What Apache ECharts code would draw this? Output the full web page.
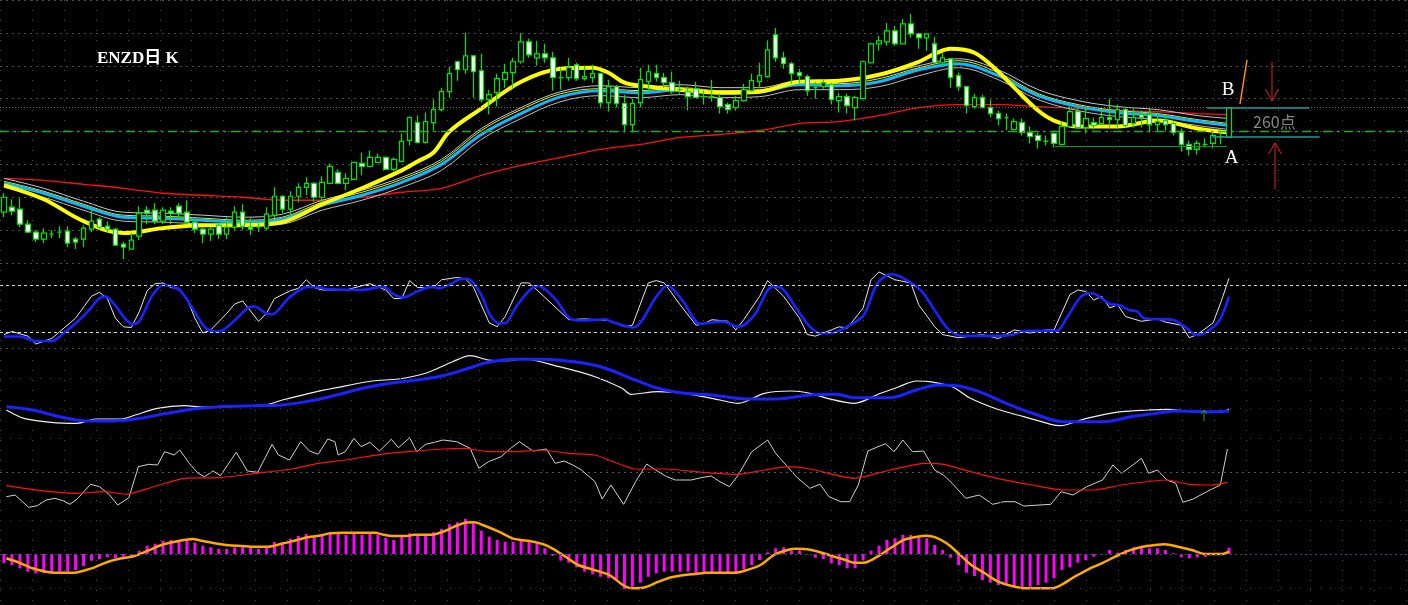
<!DOCTYPE html>
<html><head><meta charset="utf-8">
<script src="https://cdn.jsdelivr.net/npm/echarts/dist/echarts.min.js"></script>
<style>html,body{margin:0;padding:0;background:#000;}#c{width:1408px;height:605px;}</style>
</head><body><div id="c"></div>
<script>
// ---- DATA (price panel values in chart units; last candle spans 260 points) ----
const opens = [51,56,54,39,31,24,29,31,32,24, 24,34,44,37,34,19,14,27,53,53, 42,52,57,51,41,34,29,38,29,36, 51,36,36,35,48,67,54,67,76,80, 66,80,91,80,84,100,97,101,106,94, 102,123,141,121,141,154,172,202,194,208, 193,164,171,184,191,202,222,206,210,206, 186,186,199,185,186,190,161,177,160,139, 161,182,190,186,181,174,172,175,167,167, 166,159,156,163,173,182,187,229,206,200, 191,187,176,177,179,163,167,156,165,201, 220,222,233,220,240,230,226,220,201,205, 188,177,157,166,156,150,146,134,141,131, 128,122,130,119,137,152,136,141,140,146, 144,154,140,149,149,139,143,140,131,119, 114,119,120,127,126];
const closes = [66,52,39,31,24,30,29,31,20,21, 35,42,36,34,18,16,23,50,50,42, 53,50,50,41,34,29,34,29,36,51, 37,34,36,49,67,54,67,76,80,66, 81,97,80,85,101,97,106,106,94,104, 122,146,121,142,154,172,190,194,208,192, 164,169,185,191,202,222,209,210,206,186, 186,196,185,187,190,161,177,160,139,160, 184,192,186,181,172,174,167,166,167,167, 157,154,163,174,183,188,214,206,200,190, 188,173,176,181,164,167,158,166,202,220, 223,233,220,240,230,226,230,201,206,186, 177,158,166,156,150,145,146,142,131,127, 123,122,120,137,152,136,145,138,146,144, 154,138,146,146,139,142,139,131,119,114, 120,119,128,127,156];
const lows = [46,48,36,30,21,20,25,25,16,14, 16,31,34,31,17,4,14,23,39,39, 39,39,44,39,30,20,22,24,24,33, 33,28,31,33,45,50,48,61,68,61, 61,79,79,73,83,88,96,101,93,92, 101,118,120,120,133,152,166,183,190,166, 161,149,157,176,176,200,206,198,201,173, 174,183,183,183,181,155,152,156,131,131, 156,172,182,176,170,170,153,166,159,162, 150,150,153,162,172,176,186,202,195,180, 180,168,165,175,159,151,150,143,164,200, 213,218,218,220,226,215,213,199,198,176, 173,150,155,155,146,138,133,133,128,120, 115,118,116,118,136,135,130,134,138,136, 136,136,136,136,131,132,133,128,112,108, 109,116,115,119,126];
const highs = [70,64,65,43,33,35,33,37,37,26, 38,53,46,42,35,21,30,57,57,60, 56,56,60,63,44,36,36,40,46,57, 59,45,40,56,76,68,72,80,86,81, 87,100,94,90,101,111,113,110,107,106, 130,147,148,151,164,176,197,203,231,208, 210,174,190,200,206,231,225,223,220,212, 196,206,201,198,199,191,184,179,169,165, 196,199,199,191,192,183,177,182,174,184, 170,161,168,180,190,201,223,236,212,202, 195,189,182,184,181,171,170,168,203,221, 228,241,238,245,250,230,230,227,211,206, 191,178,170,169,164,153,150,145,145,137, 131,128,131,142,157,156,156,146,153,165, 159,156,155,153,155,151,148,142,135,123, 123,125,131,131,156];

// moving averages: [day index, value]
const maYellow = [[0,78],[5,64],[10,42],[15,30],[20,35],[25,38],[30,38],[35,41],[40,59],[45,75],[50,93],[52,102],[54,111],[56,132],[60,155],[65,182],[70,195],[74,196],[76,191],[78,181],[80,178],[85,174],[90,171],[95,172],[100,182],[105,183],[110,189],[115,202],[117,210],[119,215],[122,211],[125,192],[127,176],[130,153],[132,143],[135,137],[140,137],[145,143],[150,135],[154,131]];
const maCyan = [[0,80],[5,70],[10,57],[15,46],[20,45],[25,43],[30,41],[35,44],[40,58],[45,68],[50,81],[55,99],[60,129],[65,150],[70,167],[75,173],[80,171],[85,174],[90,171],[95,172],[100,179],[105,178],[110,182],[115,194],[120,200],[125,188],[130,168],[135,157],[140,151],[145,148],[150,142],[154,138]];
const maThinYellow = [[0,82],[5,72],[10,59],[15,48],[20,47],[25,45],[30,43],[35,46],[40,61],[45,71],[50,84],[55,102],[60,133],[65,154],[70,170],[75,175],[80,173],[85,176],[90,173],[95,174],[100,181],[105,180],[110,185],[115,196],[120,203],[125,191],[130,170],[135,159],[140,153],[145,150],[150,144],[154,140]];
const maWhiteUp = [[0,85],[5,75],[10,62],[15,51],[20,50],[25,48],[30,46],[35,49],[40,63],[45,73],[50,86],[55,104],[60,135],[65,156],[70,172],[75,178],[80,176],[85,179],[90,176],[95,176],[100,183],[105,183],[110,188],[115,198],[120,205],[125,194],[130,174],[135,163],[140,157],[145,154],[150,148],[154,145]];
const maWhiteDn = [[0,76],[5,66],[10,53],[15,42],[20,41],[25,39],[30,37],[35,39],[40,53],[45,63],[50,76],[55,93],[60,124],[65,145],[70,162],[75,168],[80,166],[85,169],[90,166],[95,167],[100,174],[105,174],[110,177],[115,188],[120,196],[125,184],[130,164],[135,153],[140,147],[145,144],[150,138],[154,134]];
const maRed = [[0,85],[5,83],[10,79],[15,75],[20,70],[25,68],[30,66],[35,63],[40,63],[45,66],[50,71],[55,75],[60,88],[65,98],[70,106],[75,114],[80,119],[85,126],[90,129],[95,133],[100,140],[105,142],[110,148],[115,156],[120,159],[125,159],[130,157],[135,155],[140,153],[145,152],[150,150],[154,149]];

// levels
const levelA = 127, levelB = 156, supportLevel = 117, lastLevel = 132;

// stochastic K (white) / D (blue), 0-100
const stochK = [[0,17],[1,21],[3,15],[4,5],[6,12],[9,38],[11,66],[12,71],[13,63],[14,38],[15,27],[16,26],[17,46],[18,73],[19,82],[20,83],[21,77],[22,76],[23,63],[24,38],[25,19],[26,23],[28,44],[29,56],[30,60],[32,34],[33,44],[34,63],[36,73],[37,76],[38,87],[39,77],[40,74],[43,74],[46,82],[48,74],[49,63],[50,63],[51,86],[52,77],[54,77],[55,87],[57,90],[58,88],[59,78],[61,32],[62,27],[63,40],[65,83],[66,83],[67,74],[69,55],[71,36],[73,37],[76,35],[78,27],[79,29],[81,83],[82,86],[83,83],[85,55],[87,29],[88,31],[89,36],[91,34],[92,23],[93,36],[95,66],[96,86],[98,66],[100,38],[101,17],[102,15],[104,23],[105,27],[106,25],[108,51],[109,87],[110,97],[112,87],[114,83],[115,55],[117,27],[118,17],[120,13],[123,17],[125,12],[127,23],[129,19],[131,23],[132,23],[134,68],[135,74],[136,72],[137,61],[138,66],[139,51],[140,55],[141,40],[143,34],[145,37],[146,33],[148,29],[149,13],[150,17],[152,32],[153,59],[154,89]];
const stochD = [[0,14.5],[2,14.5],[4,8.9],[6,8.9],[7.5,18.7],[9.7,37.9],[10.9,50.6],[12,63.4],[12.8,65.5],[13.6,59.1],[16.2,30.2],[17,33.6],[18.7,67.7],[20.1,80.4],[21.7,76.2],[22.6,67.7],[23.7,50.6],[25.4,25.1],[26.8,20.9],[27.6,23],[29.3,37.9],[30.7,51.5],[31.5,52.8],[32.9,44.3],[33.7,43],[34.3,46.4],[36,65.5],[38.2,77.9],[39.9,77],[40.4,75.3],[44.9,74],[47.7,77.9],[48.8,69.8],[50.2,64.3],[52.1,72.8],[53.8,78.3],[54.7,76.2],[56.1,81.3],[57.5,88.1],[58.6,86.8],[60,67.7],[61.1,42.1],[62.2,31.5],[63,31.5],[64.4,52.8],[66.1,74],[67.2,79.1],[69.4,61.3],[71.1,37.9],[72.8,34.9],[75.6,36.6],[76.1,34.5],[78.4,27.2],[79.2,26],[80.1,33.6],[82,65.5],[83.4,79.6],[85.4,59.1],[87.5,31],[90.3,33.6],[92.3,27.2],[93.1,29.4],[94.5,44.3],[96.2,76.2],[97.3,78.3],[98.2,71.9],[99.6,50.6],[101.3,27.2],[102.7,18.7],[103.8,18.7],[106.4,29.4],[108.1,42.1],[109.8,82.5],[111.5,94],[113.1,88.9],[115.4,71.9],[117.1,46.4],[118.8,23],[120.5,15.3],[123.9,15.3],[126.7,16.6],[128.4,21.7],[132.3,21.7],[133.7,40],[135.4,65.5],[136.8,69.8],[138,63.4],[139.1,55.7],[140.2,54.9],[141.4,48.5],[142.5,46.4],[143.3,37.9],[147,35.7],[148.7,25.1],[149.8,16.6],[150.9,18.7],[152.7,33.6],[154,65.5]];

// slow oscillator: blue / white
const slowBlue = [[0.3,23.3],[3.6,20],[7,13.3],[10.4,9],[13.7,9],[17.1,11.7],[20.5,16.7],[23.8,21],[27.2,23.3],[31.7,24.3],[35,25],[38.4,29],[41.8,35],[45.1,41.7],[48.5,46.7],[51.9,50],[55.2,54.3],[58.6,62.3],[60.9,67.7],[64.2,70.7],[67.6,70.7],[72.1,67.7],[75.4,62.3],[78.8,51.7],[82.2,41.7],[85.5,36.7],[88.9,35],[93.4,31],[96.8,31],[101.3,35],[104.6,35.7],[106.9,32.3],[111.4,32.3],[114.7,40],[117.5,45],[119.8,44.3],[122.6,38.3],[126,26.7],[129.3,16.7],[133.2,8.3],[138.3,8.3],[141.7,13.3],[145,16.7],[147.3,19],[151.8,18.3],[154,19]];
const slowWhite = [[0.3,20],[2.5,11.7],[5.9,7.7],[9.2,6.7],[11.5,11],[14.8,11],[16.5,15],[19.3,21.7],[22.7,24.3],[24.9,23],[29.4,24.3],[32.8,25],[35,30],[38.4,36.7],[41.8,42.3],[46.3,49],[49.6,51],[53,56.7],[56.4,68.3],[58.6,74.3],[60.9,70],[63.1,69.3],[65.3,71],[69.8,63.3],[74.3,53.3],[77.7,41.7],[78.8,35.7],[82.2,38.3],[85.5,36.7],[90,30],[92.3,26.7],[95.6,36.7],[99,39],[101.3,36.7],[103.5,31.7],[106.9,26.7],[110.2,36.7],[112.5,43.3],[114.7,49],[116.4,48.3],[119.2,43.3],[121.5,31.7],[124.8,21],[128.2,13.3],[131.6,5.7],[132.7,4.3],[136.1,11.7],[140.5,18.3],[143.9,20],[146.2,20.7],[149.5,18.3],[152.9,17.7],[154,21]];

// RSI (white) and its average (red)
const rsiWhite = [[0.3,25.3],[1.4,27],[3.1,14.7],[4.2,16.3],[5.3,22],[6.4,23.7],[7.5,21],[8.3,17.7],[9.2,23],[10.9,37.7],[12,35.3],[13.2,27.7],[14.3,17],[15.7,24.3],[16.9,55.3],[18.2,57.7],[19.3,57],[20.2,70.3],[21.4,67],[22.1,72],[23.3,58.7],[24.4,48.7],[25.2,45.3],[26.3,51],[27.2,46.3],[29.2,69.7],[30.6,51],[31.9,49.7],[33.7,77.7],[34.5,67],[35.9,62],[37.3,80.3],[38.4,71],[39.5,67.7],[40.7,83],[41.6,80.3],[42,67],[42.9,70.3],[44,83.7],[44.9,75.3],[46,79.7],[47.2,71],[48.7,82.7],[49.6,74.3],[51,84.3],[51.9,70.3],[53,77.7],[54.1,79.7],[55.2,82],[56.9,80.3],[58.6,73.7],[59.7,53.7],[60.9,60.3],[62.5,65.3],[63.7,73.7],[64.8,80.3],[66.5,71],[68.2,73],[69.3,58.7],[70.4,61],[71.5,57],[72.6,52],[74.3,40.3],[75.2,23],[76.3,37],[77.9,17.7],[79.4,40.3],[80.8,58],[81.9,52],[83.3,45.3],[84.4,42],[86.4,42],[87.6,44.3],[88.9,46],[90,40.3],[91.2,35.3],[92.3,47],[94,70.3],[96,82],[97,68.7],[98.5,55.3],[99.6,45.3],[101.3,33.7],[102.6,37.7],[103.7,25.3],[105.2,20.3],[106.3,20.3],[107.4,37],[108.6,71],[110.8,78.3],[111.9,70.3],[113,82],[114.2,70.3],[115.6,71],[117,52],[118.1,47],[119.2,38.7],[120.9,23.7],[122.6,27],[124.3,17.7],[125.7,20.3],[127.1,20.3],[128.2,16],[131.6,17.7],[132.9,30.3],[134.4,27],[136.1,35.3],[138.1,42],[139.4,57],[140.5,48.7],[141.9,57],[143,63.7],[143.9,48.7],[145,52],[146.2,42],[147.3,38.7],[148.2,19.7],[149.5,23],[151.2,30.3],[152.9,37],[153.8,73]];
const rsiRed = [[0.3,36.3],[4.7,31.3],[9.2,28.7],[12.6,30.3],[15.4,27.7],[18.2,33.7],[22.7,43.7],[27.2,44.3],[31.7,48.7],[36.2,53],[39.5,58.7],[42.9,62],[47.4,67.7],[50.8,70.3],[55.2,73],[58,73.7],[60.9,70.3],[64.2,70.3],[67.6,72],[70.9,68.7],[74.3,67],[76.6,60.3],[79.4,53],[83.3,53],[87.8,49.7],[92.3,47.7],[95.6,52],[98.5,55.3],[101.3,53],[106.9,43.7],[111.4,52],[115.8,58.7],[118.1,57.7],[121.5,50.3],[124.8,43.7],[129.3,37],[133.2,32],[137.2,32],[140.5,37],[146.2,42],[149,37.7],[151.8,37],[153.8,39.7]];

// MACD histogram (per day) and signal line
const macdBars = [-9,-11,-14.3,-17.7,-19.3,-19.3,-19.3,-17.7,-17.7,-16, -12,-6.7,-5.3,-3.3,-4.3,-2.7,-2.7,3.3,8.3,10.3, 13.3,14,14,14,11.3,8.3,6.7,5,5,6.7, 6.7,6.7,5,7.3,12,12,15,18,20,17.3, 18.3,20.7,20.7,19,20.7,19,20.7,19,16.3,14, 17.3,20.7,19,18,21.7,25,29.7,31.7,35,30.7, 23.3,17.3,14,12.3,12.3,13.3,12.3,10.7,5.7,-1.7, -6.7,-8.7,-13.3,-17.7,-20.3,-22.7,-24.3,-26,-35,-32.7, -28.7,-22.7,-19.3,-17.7,-17.7,-17.7,-17.7,-19.3,-19.3,-18.7, -18.7,-18.7,-18.7,-15.3,-11,-6,1.7,5.7,6.7,3.3, 3.3,-0.5,-3.7,-5,-9.3,-11,-14.3,-14.3,-6,3.3, 8.3,14,15.7,19,19,16.7,15.7,9,4,-3.7, -11,-18.7,-22,-26,-28.7,-31,-31,-32,-32.7,-32.7, -31,-28.7,-24.3,-16,-13.3,-8.7,-6,-2.7,-0.5,4, 1.3,4,6.7,6.7,5.7,5.7,4,0.7,-3.3,-4.3, -3.3,-2.7,-1,-0.3,6.3];
const macdSignal = [[0.3,-4.3],[1.9,-8.7],[3.6,-14.3],[5.3,-17.7],[6.4,-18.7],[8.9,-18.7],[10,-16.7],[11.4,-13.3],[13.1,-7.7],[14.8,-4.3],[16.4,-2],[18.1,3.3],[19.8,9],[21.5,12.3],[22.6,14],[23.7,15],[24.8,13.3],[26.5,10.7],[28.2,8.7],[29.8,8],[31.5,7.3],[33.2,7.3],[34.8,10],[36.5,13.3],[38.2,16.7],[39.9,18.7],[41,20.7],[42.7,21.3],[46.6,21.3],[47.7,19.3],[48.8,18],[50.5,18],[51.6,19.3],[53.8,19.3],[55.5,23.3],[56.6,27.3],[58,31.3],[59.1,31.7],[60.2,29],[62.2,22.3],[63.9,15.7],[65,14],[66.1,13],[67.8,9.7],[68.9,5.7],[70.6,-2.7],[72.2,-11],[73.9,-15.3],[76.1,-21],[77.8,-31],[78.9,-34.3],[80.6,-33.3],[82.3,-27.7],[83.9,-23.3],[85.6,-21],[87.75,-19.3],[88.3,-18.7],[92,-18.7],[93.4,-16],[95.1,-11],[96.8,-1],[98.5,4],[99.6,5.3],[101,4.7],[102.4,2.3],[104.1,-2],[105.8,-6],[106.9,-8.7],[108.1,-8.7],[109.8,-2.7],[111.4,5.7],[113.1,14],[114.8,17.3],[116,18.3],[117.1,16.7],[118.5,10.7],[119.9,1.3],[121.6,-11],[123.3,-19.3],[125,-27.7],[126.7,-32],[128.4,-34.3],[131.8,-34.3],[132.9,-31],[134.6,-22.7],[136.3,-15.3],[138,-9.3],[139.7,-2.7],[141.4,3.3],[143.1,7.3],[144.7,9],[145.9,9.7],[147.6,7.3],[149.3,4],[151,0],[153.2,0],[154,2.3]];

const title = 'ENZD日 K';
const rangeLabel = '260点';

// ---- CHART ----
const slots = 177; // 155 trading days + empty right margin
const days = Array.from({length: slots}, (_, i) => String(i + 1));
const candleData = opens.map((o, i) => [o, closes[i], lows[i], highs[i]]);

const hidden = {axisLine:{show:false}, axisTick:{show:false}, axisLabel:{show:false}, splitLine:{show:false}};
const valX = (g) => Object.assign({type:'value', gridIndex:g, min:-0.5, max:slots - 0.5}, hidden);
const ml = (data, color, type, width) => ({symbol:'none', silent:true, label:{show:false}, animation:false,
  lineStyle:{color:color, type:type, width:width || 1}, emphasis:{disabled:true}, data:data});
const line = (name, xi, yi, data, color, width, smooth, extra) => Object.assign({
  type:'line', name:name, xAxisIndex:xi, yAxisIndex:yi, data:data, showSymbol:false, symbol:'none',
  smooth:smooth, lineStyle:{color:color, width:width}, emphasis:{disabled:true}, z:3
}, extra || {});

const option = {
  backgroundColor:'#000',
  animation:false,
  grid:[
    {left:-6, top:-1, width:1416, height:264},
    {left:-6, top:269.6, width:1416, height:78.3},
    {left:-6, top:350, width:1416, height:80},
    {left:-6, top:422, width:1416, height:100},
    {left:-6, top:514, width:1416, height:80},
    {left:-2, top:0, width:1410, height:605}
  ],
  xAxis:[
    Object.assign({type:'category', gridIndex:0, data:days, boundaryGap:true}, hidden),
    valX(0), valX(1), valX(2), valX(3),
    Object.assign({type:'category', gridIndex:4, data:days, boundaryGap:true}, hidden),
    valX(4),
    {type:'value', gridIndex:5, min:0, max:1410, interval:32, axisLine:{show:false}, axisTick:{show:false}, axisLabel:{show:false},
     splitLine:{show:true, lineStyle:{color:'#4a4a4a', type:[1,9], width:1}}}
  ],
  yAxis:[
    {type:'value', gridIndex:0, min:0, max:264, interval:33, axisLine:{show:false}, axisTick:{show:false}, axisLabel:{show:false},
     splitLine:{show:true, lineStyle:{color:'#4c4c58', type:[2,4], width:1}}},
    Object.assign({type:'value', gridIndex:1, min:0, max:100}, hidden),
    Object.assign({type:'value', gridIndex:2, min:0, max:80}, hidden),
    Object.assign({type:'value', gridIndex:3, min:0, max:100}, hidden),
    Object.assign({type:'value', gridIndex:4, min:-40, max:40}, hidden),
    Object.assign({type:'value', gridIndex:5, min:0, max:605, inverse:true}, hidden)
  ],
  series:[
    line('MA red', 1, 0, maRed, '#ff1010', 1.3, 0.3, {
      markLine: ml([{yAxis:lastLevel}], '#1fae1f', [9,5,2,5], 1.3)
    }),
    line('MA white dn', 1, 0, maWhiteDn, '#bdbdbd', 1, 0.35),
    line('MA white up', 1, 0, maWhiteUp, '#c8c8c8', 1, 0.35, {
      markLine: ml([{yAxis:levelB}], '#6a6a6a', [1,2], 1)
    }),
    line('MA thin yellow', 1, 0, maThinYellow, '#f0f000', 1, 0.35),
    line('MA cyan', 1, 0, maCyan, '#12b6ff', 3, 0.35),
    line('MA yellow', 1, 0, maYellow, '#ffff00', 4, 0.35, {
      markLine: ml([
        [{coord:[132.1, supportLevel]}, {coord:[153.75, supportLevel]}]
      ], '#0a9a0a', 'solid', 1)
    }),
    line('levels', 1, 0, [], '#000', 0, false, {
      markLine: ml([
        [{coord:[151.25, levelB]}, {coord:[164.1, levelB]}],
        [{coord:[151.9, levelA]}, {coord:[165.4, levelA]}]
      ], '#2a9494', 'solid', 1.6)
    }),
    {type:'candlestick', name:'ENZD', xAxisIndex:0, yAxisIndex:0, data:candleData, barWidth:5, z:4,
     itemStyle:{color:'#000', color0:'#ffffff', borderColor:'#00e400', borderColor0:'#00e400', borderWidth:1.2},
     emphasis:{disabled:true}},
    // stochastic
    line('K', 2, 1, stochK, '#e6e6e6', 1, false, {
      markLine: ml([{yAxis:80}, {yAxis:20}], '#d8d8d8', [3,3], 1)
    }),
    line('D', 2, 1, stochD, '#1a22ff', 2.6, 0.3, {
      markLine: ml([{yAxis:0}], '#4a4a4a', [2,4], 1)
    }),
    // slow oscillator
    line('slow white', 3, 2, slowWhite, '#eeeeee', 1.2, 0.3, {
      markLine: ml([{yAxis:52}, {yAxis:22}], '#3a3a3a', [1,9], 1)
    }),
    line('slow blue', 3, 2, slowBlue, '#1a22ff', 3, 0.35),
    // RSI
    line('RSI', 4, 3, rsiWhite, '#d0d0d0', 1, false, {
      markLine: ml([{yAxis:50}], '#555560', [2,4], 1)
    }),
    line('RSI avg', 4, 3, rsiRed, '#ff1010', 1.2, 0.2, {
      markLine: ml([{yAxis:84}, {yAxis:20}], '#3a3a3a', [1,9], 1)
    }),
    // MACD
    {type:'bar', name:'MACD', xAxisIndex:5, yAxisIndex:4, data:macdBars, barWidth:3, itemStyle:{color:'#ff00ff'},
     emphasis:{disabled:true}, z:2,
     markLine: ml([{yAxis:0}], '#1f5a66', [2,3], 1)},
    line('signal', 6, 4, macdSignal, '#ffaa00', 2.5, 0.3, {
      markLine: ml([{yAxis:34}, {yAxis:-34}], '#3a3a3a', [1,9], 1)
    })
  ],
  graphic:[
    {type:'text', x:97, y:59, z:10, style:{text:title, fill:'#ffffff', font:'bold 17px "Liberation Serif", "Noto Sans CJK SC", serif', verticalAlign:'middle', textVerticalAlign:'middle'}},
    {type:'text', x:1228, y:90, z:10, style:{text:'B', fill:'#ffffff', font:'19px "Liberation Serif", serif', align:'center', textAlign:'center', verticalAlign:'middle', textVerticalAlign:'middle'}},
    {type:'text', x:1231.5, y:158.5, z:10, style:{text:'A', fill:'#ffffff', font:'19px "Liberation Serif", serif', align:'center', textAlign:'center', verticalAlign:'middle', textVerticalAlign:'middle'}},
    {type:'text', x:1253, y:121.5, z:10, style:{text:rangeLabel, fill:'#858585', font:'16px "Noto Sans CJK SC", sans-serif', verticalAlign:'middle', textVerticalAlign:'middle'}},
    {type:'line', z:10, shape:{x1:1272, y1:62, x2:1272, y2:101}, style:{stroke:'#e41e1e', lineWidth:1}},
    {type:'polyline', z:10, shape:{points:[[1265.5,89],[1272,101],[1278.5,89]]}, style:{stroke:'#e41e1e', lineWidth:1, fill:null}},
    {type:'line', z:10, shape:{x1:1275, y1:143, x2:1275, y2:189}, style:{stroke:'#e41e1e', lineWidth:1}},
    {type:'polyline', z:10, shape:{points:[[1268.5,154],[1275,143],[1281.5,154]]}, style:{stroke:'#e41e1e', lineWidth:1, fill:null}},
    {type:'line', z:10, shape:{x1:1240, y1:104, x2:1247, y2:60}, style:{stroke:'#ff8a1a', lineWidth:1.5}},
    {type:'line', z:10, shape:{x1:1204, y1:411, x2:1204, y2:421}, style:{stroke:'#1a9a1a', lineWidth:1}},
    {type:'polyline', z:10, shape:{points:[[1201,414],[1204,410],[1207,414]]}, style:{stroke:'#1a9a1a', lineWidth:1, fill:null}}
  ]
};
const chart = echarts.init(document.getElementById('c'), null, {renderer:'canvas', width:1408, height:605});
chart.setOption(option);
</script>
</body></html>
